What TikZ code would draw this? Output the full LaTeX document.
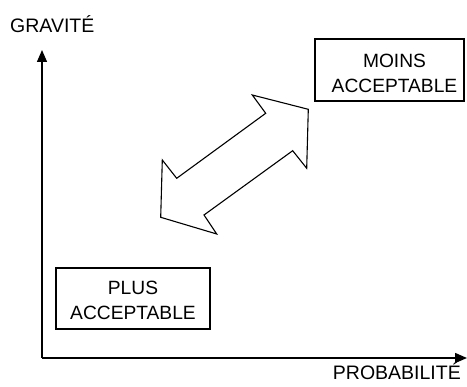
\documentclass[tikz,border=0pt]{standalone}
\usepackage{fontspec}
\setmainfont{Liberation Sans}
\usetikzlibrary{arrows.meta}
\tikzset{
  axis/.style={line width=1.4pt,-{Triangle[length=12pt,width=10pt]}},
  box/.style={draw,line width=1.2pt,inner sep=0pt},
  boxtext/.style={inner sep=0pt,align=center,font=\fontsize{19.2}{25.5}\selectfont},
  lbl/.style={inner sep=0pt,font=\fontsize{19.5}{22}\selectfont},
  bigarrow/.style={draw,line width=1.1pt,line join=miter}
}
\begin{document}
\begin{tikzpicture}[x=1pt,y=-1pt]
\useasboundingbox (0,0) rectangle (467,387);
\coordinate (o) at (42,358);
\coordinate (ytop) at (42,50);
\coordinate (xend) at (467,358);
\draw[axis] (o) -- (ytop);
\draw[axis] (o) -- (xend);
\node[lbl,anchor=base west] (grav) at (10,32.3) {GRAVITÉ};
\node[lbl,anchor=base east] (prob) at (461,379.3) {PROBABILITÉ};
\node[box,minimum width=149pt,minimum height=62pt] (moins) at (389.5,70) {};
\node[boxtext] (moinst) at (394.5,73.5) {MOINS\\ACCEPTABLE};
\node[box,minimum width=154pt,minimum height=61pt] (plus) at (133,298.5) {};
\node[boxtext] (plust) at (133,300.5) {PLUS\\ACCEPTABLE};
\draw[bigarrow] (308.3,109.3) -- (252.3,95) -- (265.7,113.3) -- (176.7,178.3)
  -- (162.3,160) -- (160.7,217.3) -- (216.7,234) -- (204,215)
  -- (292.7,150.7) -- (306.7,168.3) -- cycle;
\end{tikzpicture}
\end{document}
